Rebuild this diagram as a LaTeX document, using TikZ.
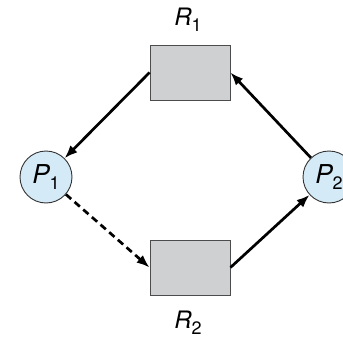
\documentclass[tikz,border=0pt]{standalone}
\usepackage{fontspec}
\setmainfont{TeX Gyre Heros}
\usetikzlibrary{arrows.meta}
\definecolor{procblue}{HTML}{D4EAF7}
\definecolor{resgray}{HTML}{CFD0D2}
\newcommand{\lbl}[2]{{\itshape #1}\raisebox{-0.45ex}{\fontsize{18}{20}\selectfont #2}}
\begin{document}
\begin{tikzpicture}[x=1pt,y=-1pt,
  proc/.style={circle,draw=black!80,fill=procblue,line width=.9pt,minimum size=52pt,inner sep=0pt,font=\fontsize{26}{30}\selectfont},
  res/.style={rectangle,draw=black!70,fill=resgray,line width=.9pt,minimum width=80pt,minimum height=55pt},
  tag/.style={font=\fontsize{24}{28}\selectfont},
  edge/.style={line width=2.7pt,-{Latex[length=13pt,width=10pt]}}]
\useasboundingbox (0,0) rectangle (343,340);
\fill[white] (0,0) rectangle (343,340);
\node[res] (R1) at (190,72.5) {};
\node[res] (R2) at (190,267.5) {};
\node[tag] (tR1) at (188,20) {\lbl{R}{1}};
\node[tag] (tR2) at (188,323) {\lbl{R}{2}};
\node[proc] (P1) at (46,177) {\lbl{P}{1}};
\node[proc] (P2) at (329,177) {\lbl{P}{2}};
\draw[edge] (R1.west) -- (P1);
\draw[edge] (P2) -- (R1.east);
\draw[edge,dash pattern=on 7pt off 4.5pt] (P1) -- (R2.west);
\draw[edge] (R2.east) -- (P2);
\end{tikzpicture}
\end{document}
